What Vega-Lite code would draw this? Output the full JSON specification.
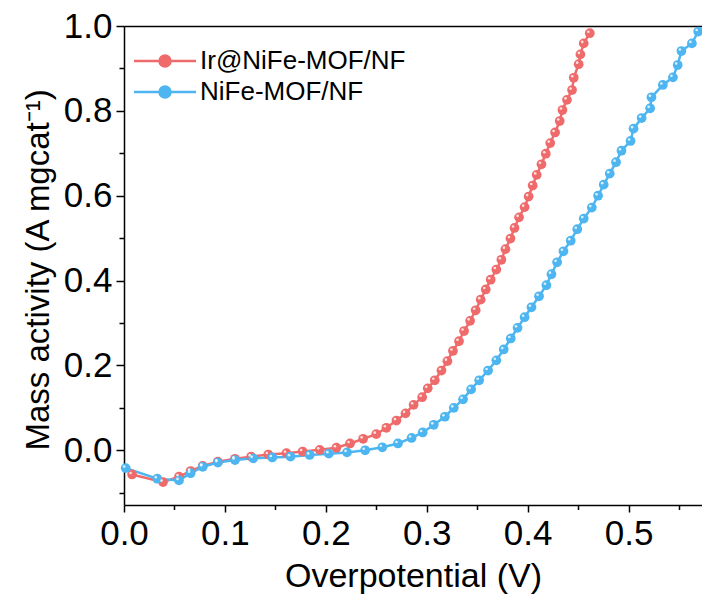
{
  "$schema": "https://vega.github.io/schema/vega-lite/v6.json",
  "width": 578,
  "height": 479,
  "autosize": {"type": "none"},
  "padding": {"left": 124, "top": 26, "right": 0, "bottom": 94},
  "background": "white",
  "config": {
    "view": {"stroke": null},
    "font": "Liberation Sans",
    "axis": {
      "grid": false,
      "domainColor": "black",
      "domainWidth": 1.5,
      "tickColor": "black",
      "tickWidth": 1.5,
      "labelColor": "black",
      "titleColor": "black",
      "labelFont": "Liberation Sans",
      "titleFont": "Liberation Sans",
      "titleFontWeight": "normal"
    },
    "legend": {
      "labelFont": "Liberation Sans",
      "labelColor": "black"
    }
  },
  "data": {
    "values": [
      {"s": "Ir@NiFe-MOF/NF", "V": 0.008, "J": -0.057},
      {"s": "Ir@NiFe-MOF/NF", "V": 0.0387, "J": -0.075},
      {"s": "Ir@NiFe-MOF/NF", "V": 0.0545, "J": -0.062},
      {"s": "Ir@NiFe-MOF/NF", "V": 0.066, "J": -0.049},
      {"s": "Ir@NiFe-MOF/NF", "V": 0.078, "J": -0.037},
      {"s": "Ir@NiFe-MOF/NF", "V": 0.093, "J": -0.027},
      {"s": "Ir@NiFe-MOF/NF", "V": 0.110, "J": -0.020},
      {"s": "Ir@NiFe-MOF/NF", "V": 0.126, "J": -0.015},
      {"s": "Ir@NiFe-MOF/NF", "V": 0.143, "J": -0.010},
      {"s": "Ir@NiFe-MOF/NF", "V": 0.161, "J": -0.007},
      {"s": "Ir@NiFe-MOF/NF", "V": 0.177, "J": -0.003},
      {"s": "Ir@NiFe-MOF/NF", "V": 0.194, "J": 0.001},
      {"s": "Ir@NiFe-MOF/NF", "V": 0.2105, "J": 0.006},
      {"s": "Ir@NiFe-MOF/NF", "V": 0.224, "J": 0.016},
      {"s": "Ir@NiFe-MOF/NF", "V": 0.237, "J": 0.027},
      {"s": "Ir@NiFe-MOF/NF", "V": 0.250, "J": 0.038},
      {"s": "Ir@NiFe-MOF/NF", "V": 0.260, "J": 0.053},
      {"s": "Ir@NiFe-MOF/NF", "V": 0.270, "J": 0.070},
      {"s": "Ir@NiFe-MOF/NF", "V": 0.279, "J": 0.087},
      {"s": "Ir@NiFe-MOF/NF", "V": 0.287, "J": 0.107},
      {"s": "Ir@NiFe-MOF/NF", "V": 0.2955, "J": 0.125},
      {"s": "Ir@NiFe-MOF/NF", "V": 0.301, "J": 0.146},
      {"s": "Ir@NiFe-MOF/NF", "V": 0.308, "J": 0.165},
      {"s": "Ir@NiFe-MOF/NF", "V": 0.3146, "J": 0.188},
      {"s": "Ir@NiFe-MOF/NF", "V": 0.3205, "J": 0.210},
      {"s": "Ir@NiFe-MOF/NF", "V": 0.326, "J": 0.234},
      {"s": "Ir@NiFe-MOF/NF", "V": 0.332, "J": 0.257},
      {"s": "Ir@NiFe-MOF/NF", "V": 0.337, "J": 0.281},
      {"s": "Ir@NiFe-MOF/NF", "V": 0.343, "J": 0.305},
      {"s": "Ir@NiFe-MOF/NF", "V": 0.3485, "J": 0.330},
      {"s": "Ir@NiFe-MOF/NF", "V": 0.3535, "J": 0.355},
      {"s": "Ir@NiFe-MOF/NF", "V": 0.3585, "J": 0.379},
      {"s": "Ir@NiFe-MOF/NF", "V": 0.3634, "J": 0.402},
      {"s": "Ir@NiFe-MOF/NF", "V": 0.369, "J": 0.426},
      {"s": "Ir@NiFe-MOF/NF", "V": 0.374, "J": 0.449},
      {"s": "Ir@NiFe-MOF/NF", "V": 0.378, "J": 0.474},
      {"s": "Ir@NiFe-MOF/NF", "V": 0.383, "J": 0.499},
      {"s": "Ir@NiFe-MOF/NF", "V": 0.387, "J": 0.524},
      {"s": "Ir@NiFe-MOF/NF", "V": 0.3915, "J": 0.549},
      {"s": "Ir@NiFe-MOF/NF", "V": 0.397, "J": 0.573},
      {"s": "Ir@NiFe-MOF/NF", "V": 0.401, "J": 0.598},
      {"s": "Ir@NiFe-MOF/NF", "V": 0.405, "J": 0.624},
      {"s": "Ir@NiFe-MOF/NF", "V": 0.409, "J": 0.649},
      {"s": "Ir@NiFe-MOF/NF", "V": 0.4137, "J": 0.674},
      {"s": "Ir@NiFe-MOF/NF", "V": 0.418, "J": 0.699},
      {"s": "Ir@NiFe-MOF/NF", "V": 0.4224, "J": 0.724},
      {"s": "Ir@NiFe-MOF/NF", "V": 0.4272, "J": 0.749},
      {"s": "Ir@NiFe-MOF/NF", "V": 0.4318, "J": 0.776},
      {"s": "Ir@NiFe-MOF/NF", "V": 0.4345, "J": 0.802},
      {"s": "Ir@NiFe-MOF/NF", "V": 0.439, "J": 0.826},
      {"s": "Ir@NiFe-MOF/NF", "V": 0.444, "J": 0.849},
      {"s": "Ir@NiFe-MOF/NF", "V": 0.4457, "J": 0.878},
      {"s": "Ir@NiFe-MOF/NF", "V": 0.4506, "J": 0.910},
      {"s": "Ir@NiFe-MOF/NF", "V": 0.4523, "J": 0.933},
      {"s": "Ir@NiFe-MOF/NF", "V": 0.4556, "J": 0.959},
      {"s": "Ir@NiFe-MOF/NF", "V": 0.4616, "J": 0.983},
      {"s": "NiFe-MOF/NF", "V": 0.0017, "J": -0.042},
      {"s": "NiFe-MOF/NF", "V": 0.033, "J": -0.067},
      {"s": "NiFe-MOF/NF", "V": 0.0545, "J": -0.071},
      {"s": "NiFe-MOF/NF", "V": 0.066, "J": -0.054},
      {"s": "NiFe-MOF/NF", "V": 0.078, "J": -0.039},
      {"s": "NiFe-MOF/NF", "V": 0.093, "J": -0.029},
      {"s": "NiFe-MOF/NF", "V": 0.110, "J": -0.023},
      {"s": "NiFe-MOF/NF", "V": 0.128, "J": -0.019},
      {"s": "NiFe-MOF/NF", "V": 0.147, "J": -0.017},
      {"s": "NiFe-MOF/NF", "V": 0.165, "J": -0.015},
      {"s": "NiFe-MOF/NF", "V": 0.184, "J": -0.011},
      {"s": "NiFe-MOF/NF", "V": 0.203, "J": -0.008},
      {"s": "NiFe-MOF/NF", "V": 0.221, "J": -0.005},
      {"s": "NiFe-MOF/NF", "V": 0.239, "J": 0.000},
      {"s": "NiFe-MOF/NF", "V": 0.256, "J": 0.007},
      {"s": "NiFe-MOF/NF", "V": 0.2715, "J": 0.016},
      {"s": "NiFe-MOF/NF", "V": 0.285, "J": 0.029},
      {"s": "NiFe-MOF/NF", "V": 0.296, "J": 0.042},
      {"s": "NiFe-MOF/NF", "V": 0.307, "J": 0.060},
      {"s": "NiFe-MOF/NF", "V": 0.318, "J": 0.079},
      {"s": "NiFe-MOF/NF", "V": 0.3268, "J": 0.100},
      {"s": "NiFe-MOF/NF", "V": 0.336, "J": 0.120},
      {"s": "NiFe-MOF/NF", "V": 0.344, "J": 0.1435},
      {"s": "NiFe-MOF/NF", "V": 0.352, "J": 0.165},
      {"s": "NiFe-MOF/NF", "V": 0.3608, "J": 0.188},
      {"s": "NiFe-MOF/NF", "V": 0.369, "J": 0.212},
      {"s": "NiFe-MOF/NF", "V": 0.3763, "J": 0.2376},
      {"s": "NiFe-MOF/NF", "V": 0.3833, "J": 0.2635},
      {"s": "NiFe-MOF/NF", "V": 0.390, "J": 0.2885},
      {"s": "NiFe-MOF/NF", "V": 0.397, "J": 0.3136},
      {"s": "NiFe-MOF/NF", "V": 0.4038, "J": 0.337},
      {"s": "NiFe-MOF/NF", "V": 0.4113, "J": 0.363},
      {"s": "NiFe-MOF/NF", "V": 0.4186, "J": 0.389},
      {"s": "NiFe-MOF/NF", "V": 0.4236, "J": 0.415},
      {"s": "NiFe-MOF/NF", "V": 0.4292, "J": 0.443},
      {"s": "NiFe-MOF/NF", "V": 0.4355, "J": 0.469},
      {"s": "NiFe-MOF/NF", "V": 0.4427, "J": 0.494},
      {"s": "NiFe-MOF/NF", "V": 0.4492, "J": 0.521},
      {"s": "NiFe-MOF/NF", "V": 0.4556, "J": 0.546},
      {"s": "NiFe-MOF/NF", "V": 0.4636, "J": 0.572},
      {"s": "NiFe-MOF/NF", "V": 0.4698, "J": 0.600},
      {"s": "NiFe-MOF/NF", "V": 0.4754, "J": 0.626},
      {"s": "NiFe-MOF/NF", "V": 0.4814, "J": 0.652},
      {"s": "NiFe-MOF/NF", "V": 0.4876, "J": 0.679},
      {"s": "NiFe-MOF/NF", "V": 0.493, "J": 0.706},
      {"s": "NiFe-MOF/NF", "V": 0.502, "J": 0.729},
      {"s": "NiFe-MOF/NF", "V": 0.505, "J": 0.758},
      {"s": "NiFe-MOF/NF", "V": 0.513, "J": 0.783},
      {"s": "NiFe-MOF/NF", "V": 0.5214, "J": 0.806},
      {"s": "NiFe-MOF/NF", "V": 0.5227, "J": 0.832},
      {"s": "NiFe-MOF/NF", "V": 0.534, "J": 0.861},
      {"s": "NiFe-MOF/NF", "V": 0.544, "J": 0.879},
      {"s": "NiFe-MOF/NF", "V": 0.5487, "J": 0.908},
      {"s": "NiFe-MOF/NF", "V": 0.5524, "J": 0.941},
      {"s": "NiFe-MOF/NF", "V": 0.5628, "J": 0.959},
      {"s": "NiFe-MOF/NF", "V": 0.569, "J": 0.987}
    ]
  },
  "resolve": {
    "scale": {"x": "shared", "y": "shared", "color": "shared"},
    "axis": {"x": "independent", "y": "independent"}
  },
  "layer": [
    {
      "mark": {"type": "line", "strokeWidth": 2.5},
      "encoding": {
        "x": {
          "field": "V", "type": "quantitative",
          "scale": {"domain": [0, 0.5728], "nice": false, "zero": false},
          "axis": {
            "orient": "bottom",
            "values": [0, 0.1, 0.2, 0.3, 0.4, 0.5],
            "format": ".1f",
            "tickSize": 7,
            "labelFontSize": 35,
            "labelPadding": 4,
            "labelFlush": false,
            "title": "Overpotential (V)",
            "titleFontSize": 34,
            "titleBaseline": "alphabetic",
            "titleAlign": "center",
            "titleX": 289,
            "titleY": 81
          }
        },
        "y": {
          "field": "J", "type": "quantitative",
          "scale": {"domain": [-0.129, 1.0], "nice": false, "zero": false},
          "axis": {
            "orient": "left",
            "values": [0, 0.2, 0.4, 0.6, 0.8, 1.0],
            "format": ".1f",
            "tickSize": 8,
            "labelFontSize": 35,
            "labelPadding": 4,
            "labelFlush": false,
            "title": "Mass activity (A mgcat⁻¹)",
            "titleFontSize": 33,
            "titleAngle": -90,
            "titleBaseline": "alphabetic",
            "titleAlign": "left",
            "titleX": -76,
            "titleY": 424
          }
        },
        "color": {
          "field": "s", "type": "nominal",
          "scale": {"domain": ["Ir@NiFe-MOF/NF", "NiFe-MOF/NF"], "range": ["#EF6B6B", "#4DB5F0"]},
          "legend": {
            "title": null,
            "orient": "none",
            "legendX": 28,
            "legendY": 22,
            "padding": 0,
            "labelFontSize": 26,
            "labelLimit": 400,
            "labelOffset": 22,
            "rowPadding": 5,
            "symbolSize": 100,
            "symbolType": "M-6.2,0L6.2,0M-1.1,0A1.1,1.1,0,1,0,1.1,0A1.1,1.1,0,1,0,-1.1,0Z",
            "symbolStrokeWidth": 2.5,
            "encode": {
              "symbols": {
                "update": {
                  "fill": {"scale": "color", "field": "value"},
                  "stroke": {"scale": "color", "field": "value"},
                  "strokeWidth": {"value": 2.5},
                  "opacity": {"value": 1}
                }
              }
            }
          }
        }
      }
    },
    {
      "mark": {"type": "point", "filled": true, "size": 95, "opacity": 1},
      "encoding": {
        "x": {
          "field": "V", "type": "quantitative",
          "axis": {"orient": "top", "labels": false, "ticks": false, "domain": true, "title": null}
        },
        "y": {"field": "J", "type": "quantitative", "axis": null},
        "color": {"field": "s", "type": "nominal"}
      }
    },
    {
      "mark": {"type": "point", "filled": true, "size": 7, "color": "white", "opacity": 0.8, "xOffset": -1.5, "yOffset": -1.5},
      "encoding": {
        "x": {
          "field": "V", "type": "quantitative",
          "axis": {
            "orient": "bottom",
            "values": [0.05, 0.15, 0.25, 0.35, 0.45, 0.55],
            "labels": false, "domain": false, "tickSize": 4.5, "title": null
          }
        },
        "y": {
          "field": "J", "type": "quantitative",
          "axis": {
            "orient": "left",
            "values": [-0.1, 0.1, 0.3, 0.5, 0.7, 0.9],
            "labels": false, "domain": false, "tickSize": 5, "title": null
          }
        }
      }
    }
  ]
}
